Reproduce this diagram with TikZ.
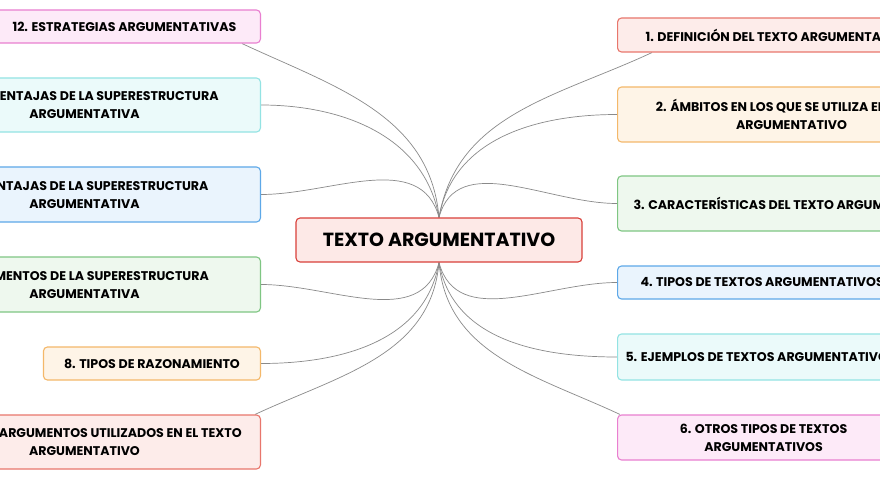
\documentclass[tikz,border=0pt]{standalone}
\usepackage{fontspec}
\setmainfont{Poppins}
\usetikzlibrary{backgrounds}
\definecolor{linegray}{HTML}{8A8A8A}
\definecolor{pinkline}{HTML}{E97FD0}\definecolor{pinkfill}{HTML}{FDEAF8}
\definecolor{cyanline}{HTML}{93E3E3}\definecolor{cyanfill}{HTML}{EBFAFA}
\definecolor{blueline}{HTML}{5DA8E8}\definecolor{bluefill}{HTML}{EAF4FD}
\definecolor{greenline}{HTML}{7FC683}\definecolor{greenfill}{HTML}{EEF8EE}
\definecolor{orangeline}{HTML}{F4B86A}\definecolor{orangefill}{HTML}{FEF4E7}
\definecolor{redline}{HTML}{E8766C}\definecolor{redfill}{HTML}{FDECEA}
\definecolor{mainline}{HTML}{D9403A}\definecolor{mainfill}{HTML}{FDE9E7}

\tikzset{
  topic/.style={draw=#1line, fill=#1fill, line width=1.1pt, rounded corners=4pt,
    inner ysep=0pt, align=center, text=black,
    font=\fontsize{12.6}{18}\selectfont\bfseries},
  lbox/.style={topic=#1, anchor=east, minimum width=352pt},
  rbox/.style={topic=#1, anchor=west},
  link/.style={draw=linegray, line width=0.7pt}
}

\begin{document}
\begin{tikzpicture}[x=1pt,y=1pt]
    \useasboundingbox (0,0) rectangle (880,480);

    \node[draw=mainline, fill=mainfill, line width=1.1pt, rounded corners=4pt,
        minimum width=286pt, minimum height=44pt, inner ysep=0pt,
        font=\fontsize{19}{22}\selectfont\bfseries] (c) at (439,240) {TEXTO ARGUMENTATIVO};

    % left side
    \node[lbox=pink, minimum width=272pt, minimum height=33pt] (n12) at (261,453.5) {12. ESTRATEGIAS ARGUMENTATIVAS};
    \node[lbox=cyan, minimum height=54pt] (n11) at (261,375) {11. DESVENTAJAS DE LA SUPERESTRUCTURA\\ARGUMENTATIVA};
    \node[lbox=blue, minimum height=55pt] (n10) at (261,285.5) {10. VENTAJAS DE LA SUPERESTRUCTURA\\ARGUMENTATIVA};
    \node[lbox=green, minimum height=55pt] (n9) at (261,195.5) {9. ELEMENTOS DE LA SUPERESTRUCTURA\\ARGUMENTATIVA};
    \node[lbox=orange, minimum width=217pt, minimum height=33pt] (n8) at (261,116.5) {8. TIPOS DE RAZONAMIENTO};
    \node[lbox=red, minimum height=54pt] (n7) at (261,38) {7. TIPOS DE ARGUMENTOS UTILIZADOS EN EL TEXTO\\ARGUMENTATIVO};

    % right side
    \node[rbox=red, inner xsep=28pt, minimum height=34pt] (n1) at (617,445) {1. DEFINICIÓN DEL TEXTO ARGUMENTATIVO};
    \node[rbox=orange, minimum width=348pt, minimum height=55pt] (n2) at (617,365.5) {2. ÁMBITOS EN LOS QUE SE UTILIZA EL TEXTO\\ARGUMENTATIVO};
    \node[rbox=green, inner xsep=16pt, minimum height=55pt] (n3) at (617,276.5) {3. CARACTERÍSTICAS DEL TEXTO ARGUMENTATIVO};
    \node[rbox=blue, inner xsep=23pt, minimum height=33pt] (n4) at (617,197.5) {4. TIPOS DE TEXTOS ARGUMENTATIVOS};
    \node[rbox=cyan, inner xsep=8pt, minimum height=46pt] (n5) at (617,123) {5. EJEMPLOS DE TEXTOS ARGUMENTATIVOS};
    \node[rbox=pink, minimum width=292pt, minimum height=45pt] (n6) at (617,42.5) {6. OTROS TIPOS DE TEXTOS\\ARGUMENTATIVOS};

    \begin{scope}[on background layer]
        \fill[white] (0,0) rectangle (880,480);
        \draw[link] (c.north) to[out=95, in=-25] ([xshift=-19pt]n12.south east);
        \draw[link] (c.north) to[out=100, in=0] (n11.east);
        \draw[link] (c.north) to[out=105, in=0] (n10.east);
        \draw[link] (c.north) to[out=80, in=205] ([xshift=35pt]n1.south west);
        \draw[link] (c.north) to[out=80, in=180] (n2.west);
        \draw[link] (c.north) to[out=75, in=180] (n3.west);
        \draw[link] (c.south) to[out=-105, in=0] (n9.east);
        \draw[link] (c.south) to[out=-100, in=0] (n8.east);
        \draw[link] (c.south) to[out=-95, in=25] ([xshift=-6pt]n7.north east);
        \draw[link] (c.south) to[out=-75, in=180] (n4.west);
        \draw[link] (c.south) to[out=-80, in=180] (n5.west);
        \draw[link] (c.south) to[out=-85, in=155] ([xshift=3pt]n6.north west);
    \end{scope}
\end{tikzpicture}
\end{document}
